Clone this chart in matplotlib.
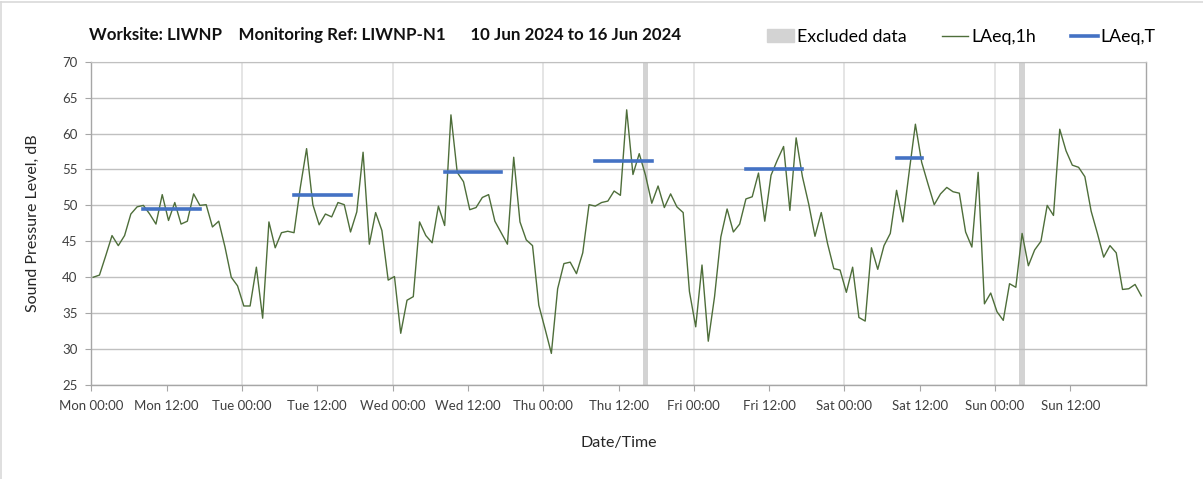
import matplotlib
matplotlib.use('Agg')
import matplotlib.pyplot as plt
import numpy as np


########## Data (hourly LAeq,1h, Mon 10 Jun 2024 00:00 to Sun 16 Jun 2024 23:00)
laeq_mon = [40.0, 40.3, 43.0, 45.8, 44.4, 45.8, 48.8, 49.8, 50.0, 48.8, 47.4, 51.5,
            47.9, 50.4, 47.4, 47.8, 51.6, 50.0, 50.1, 47.0, 47.8, 44.2, 40.0, 38.8]
laeq_tue = [36.0, 36.0, 41.4, 34.3, 47.7, 44.1, 46.2, 46.4, 46.2, 52.5, 57.9, 50.1,
            47.3, 48.8, 48.4, 50.4, 50.1, 46.3, 49.1, 57.4, 44.6, 49.0, 46.5, 39.6]
laeq_wed = [40.1, 32.2, 36.8, 37.3, 47.7, 45.8, 44.8, 49.9, 47.2, 62.6, 54.6, 53.3,
            49.4, 49.7, 51.1, 51.5, 47.8, 46.2, 44.6, 56.7, 47.7, 45.2, 44.4, 36.1]
laeq_thu = [32.8, 29.4, 38.4, 41.9, 42.1, 40.5, 43.4, 50.1, 49.9, 50.4, 50.6, 52.0,
            51.4, 63.3, 54.3, 57.2, 54.2, 50.3, 52.7, 49.7, 51.6, 49.8, 49.0, 38.0]
laeq_fri = [33.1, 41.7, 31.1, 37.3, 45.6, 49.5, 46.3, 47.4, 50.9, 51.2, 54.5, 47.8,
            54.2, 56.3, 58.2, 49.3, 59.4, 54.0, 50.2, 45.7, 49.0, 44.7, 41.2, 41.0]
laeq_sat = [37.9, 41.4, 34.4, 33.9, 44.1, 41.1, 44.4, 46.1, 52.1, 47.7, 54.6, 61.3,
            56.0, 53.0, 50.1, 51.6, 52.5, 51.9, 51.7, 46.3, 44.2, 54.6, 36.3, 37.8]
laeq_sun = [35.2, 34.0, 39.1, 38.6, 46.1, 41.6, 43.8, 45.0, 50.0, 48.6, 60.6, 57.6,
            55.6, 55.3, 54.0, 49.2, 46.1, 42.8, 44.4, 43.4, 38.3, 38.4, 39.0, 37.4]

### LAeq,T daytime periods: first hour index, last hour index, level
period_start = [8, 32, 56, 80, 104, 128]
period_end = [17, 41, 65, 89, 113, 132]
period_level = [49.5, 51.4, 54.7, 56.2, 55.0, 56.6]

### Excluded hours (index)
excluded_hours = [88, 148]

day_names = ['Mon', 'Tue', 'Wed', 'Thu', 'Fri', 'Sat', 'Sun']
title_text = 'Worksite: LIWNP    Monitoring Ref: LIWNP-N1      10 Jun 2024 to 16 Jun 2024'


########## Prep
laeq_1h = np.array(laeq_mon + laeq_tue + laeq_wed + laeq_thu + laeq_fri + laeq_sat + laeq_sun)
offset = 0.3  # samples sit a bit after the hour on the axis
hours = np.arange(len(laeq_1h)) + offset

tick_pos = np.arange(0, 168, 12)
tick_lab = [f'{d} {hh:02d}:00' for d in day_names for hh in (0, 12)]

green = '#4e6e3a'
blue = '#4472c4'
grey_band = '#d3d3d3'

plt.rcParams['font.family'] = ['Lato', 'DejaVu Sans']


########## Figure
fig = plt.figure(figsize=(12.03, 4.79), dpi=100)
ax = fig.add_axes([0.0759, 0.1962, 0.8765, 0.675])

for h in excluded_hours:
    ax.axvspan(h + offset - 0.45, h + offset + 0.45, color=grey_band, lw=0, zorder=1)

ax.plot(hours, laeq_1h, color=green, lw=1.0, zorder=3)

for s, e, v in zip(period_start, period_end, period_level):
    ax.plot([s + offset, e + offset], [v, v], color=blue, lw=2.6,
            solid_capstyle='projecting', zorder=4)

ax.set_xlim(0, 168)
ax.set_ylim(25, 70)
ax.set_yticks(np.arange(25, 71, 5))
ax.set_xticks(tick_pos)
ax.set_xticklabels(tick_lab, fontsize=9.5, color='#404040')
ax.tick_params(axis='y', labelsize=9.5, labelcolor='#404040', length=4, color='#a6a6a6', pad=6)
ax.tick_params(axis='x', length=4, color='#a6a6a6', pad=7)

ax.grid(axis='y', color='#c0c0c0', lw=1.0, zorder=0)
for d in range(1, 7):
    ax.axvline(d * 24, color='#e0e0e0', lw=1.2, zorder=0)

for side in ['left', 'bottom', 'right']:
    ax.spines[side].set_color('#a6a6a6')
    ax.spines[side].set_linewidth(1.0)
ax.spines['top'].set_color('#c0c0c0')

ax.set_ylabel('Sound Pressure Level, dB', fontsize=11.5, color='#262626', labelpad=16)
ax.set_xlabel('Date/Time', fontsize=11.5, color='#262626', labelpad=17)

fig.text(0.074, 0.927, title_text, fontsize=12.2, fontweight='bold', color='#111111',
         ha='left', va='center')

### Legend
legend_handles = [
    plt.Rectangle((0, 0), 1, 1, color=grey_band),
    plt.Line2D([], [], color=green, lw=1.0),
    plt.Line2D([], [], color=blue, lw=2.6),
]
fig.legend(legend_handles, ['Excluded data', 'LAeq,1h', 'LAeq,T'], loc='center',
           bbox_to_anchor=(0.7993, 0.923), ncol=3, frameon=False, fontsize=12.8,
           handlelength=1.5, handletextpad=0.15, columnspacing=2.0, handleheight=0.7)

### Chart border lines (left and top)
fig.add_artist(plt.Line2D([0.001, 0.001], [0, 0.996], color='#d9d9d9', lw=1.2, transform=fig.transFigure))
fig.add_artist(plt.Line2D([0.001, 1], [0.996, 0.996], color='#d9d9d9', lw=1.2, transform=fig.transFigure))

plt.savefig('out.png', dpi=100)
plt.close()
